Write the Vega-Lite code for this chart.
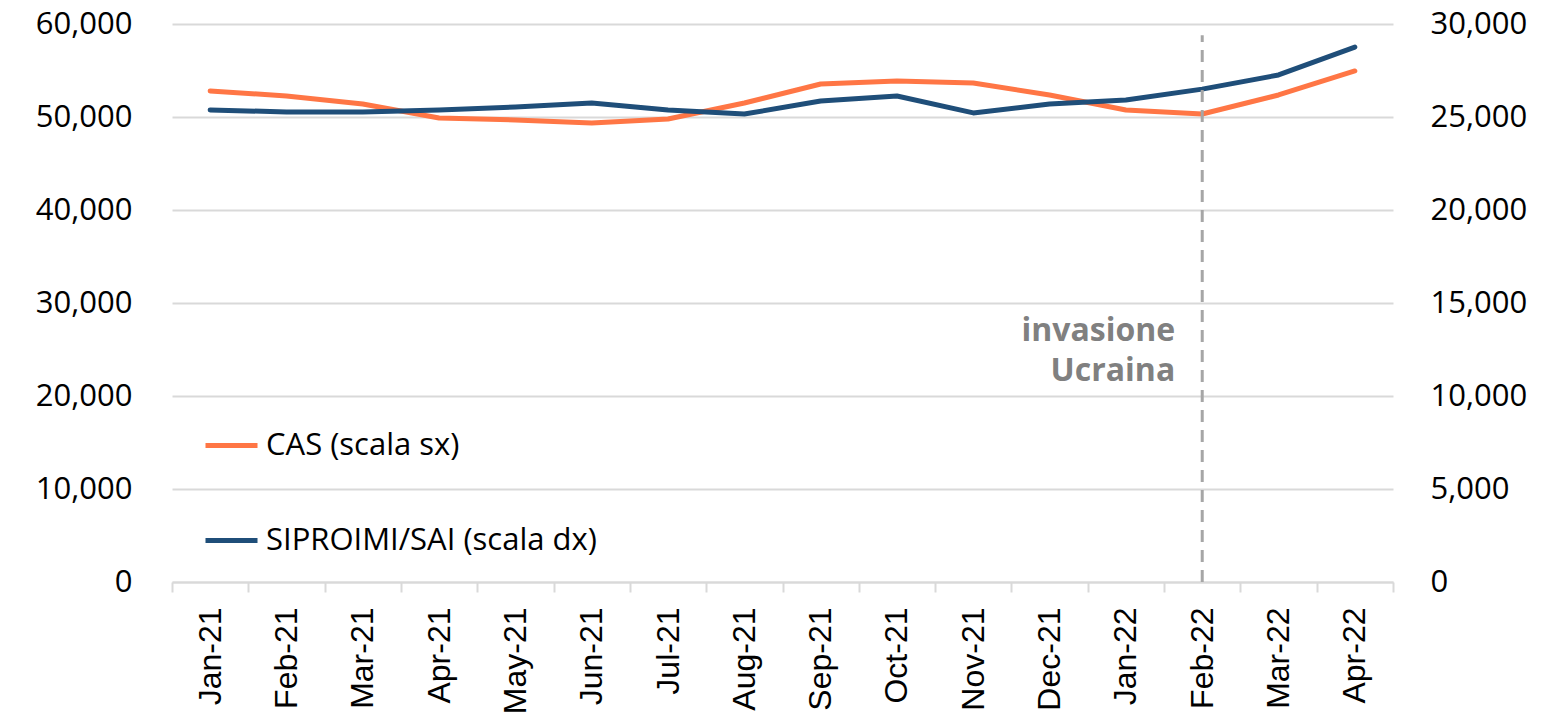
{
  "$schema": "https://vega.github.io/schema/vega-lite/v6.json",
  "width": 1221,
  "height": 558,
  "autosize": {"type": "none"},
  "padding": {"left": 172, "top": 24, "right": 163, "bottom": 144},
  "background": "white",
  "config": {
    "view": {"stroke": null},
    "font": "Open Sans"
  },
  "datasets": {
    "series": [
      {"month": "Jan-21", "series": "CAS (scala sx)", "value": 52800},
      {"month": "Feb-21", "series": "CAS (scala sx)", "value": 52260},
      {"month": "Mar-21", "series": "CAS (scala sx)", "value": 51400},
      {"month": "Apr-21", "series": "CAS (scala sx)", "value": 49890},
      {"month": "May-21", "series": "CAS (scala sx)", "value": 49680},
      {"month": "Jun-21", "series": "CAS (scala sx)", "value": 49360},
      {"month": "Jul-21", "series": "CAS (scala sx)", "value": 49790},
      {"month": "Aug-21", "series": "CAS (scala sx)", "value": 51500},
      {"month": "Sep-21", "series": "CAS (scala sx)", "value": 53550},
      {"month": "Oct-21", "series": "CAS (scala sx)", "value": 53870},
      {"month": "Nov-21", "series": "CAS (scala sx)", "value": 53660},
      {"month": "Dec-21", "series": "CAS (scala sx)", "value": 52370},
      {"month": "Jan-22", "series": "CAS (scala sx)", "value": 50750},
      {"month": "Feb-22", "series": "CAS (scala sx)", "value": 50320},
      {"month": "Mar-22", "series": "CAS (scala sx)", "value": 52370},
      {"month": "Apr-22", "series": "CAS (scala sx)", "value": 54950},
      {"month": "Jan-21", "series": "SIPROIMI/SAI (scala dx)", "value": 25380},
      {"month": "Feb-21", "series": "SIPROIMI/SAI (scala dx)", "value": 25270},
      {"month": "Mar-21", "series": "SIPROIMI/SAI (scala dx)", "value": 25270},
      {"month": "Apr-21", "series": "SIPROIMI/SAI (scala dx)", "value": 25380},
      {"month": "May-21", "series": "SIPROIMI/SAI (scala dx)", "value": 25540},
      {"month": "Jun-21", "series": "SIPROIMI/SAI (scala dx)", "value": 25750},
      {"month": "Jul-21", "series": "SIPROIMI/SAI (scala dx)", "value": 25380},
      {"month": "Aug-21", "series": "SIPROIMI/SAI (scala dx)", "value": 25160},
      {"month": "Sep-21", "series": "SIPROIMI/SAI (scala dx)", "value": 25860},
      {"month": "Oct-21", "series": "SIPROIMI/SAI (scala dx)", "value": 26130},
      {"month": "Nov-21", "series": "SIPROIMI/SAI (scala dx)", "value": 25220},
      {"month": "Dec-21", "series": "SIPROIMI/SAI (scala dx)", "value": 25700},
      {"month": "Jan-22", "series": "SIPROIMI/SAI (scala dx)", "value": 25910},
      {"month": "Feb-22", "series": "SIPROIMI/SAI (scala dx)", "value": 26500},
      {"month": "Mar-22", "series": "SIPROIMI/SAI (scala dx)", "value": 27260},
      {"month": "Apr-22", "series": "SIPROIMI/SAI (scala dx)", "value": 28760}
    ],
    "events": [
      {"month": "Feb-22", "label": ["invasione", "Ucraina"], "level": 27000}
    ]
  },
  "encoding": {
    "x": {
      "field": "month",
      "type": "ordinal",
      "sort": null,
      "scale": {"type": "band", "paddingInner": 0, "paddingOuter": 0},
      "axis": {
        "title": null,
        "labelAngle": -90,
        "labelFont": "Liberation Sans",
        "labelFontSize": 32,
        "labelColor": "#000000",
        "labelPadding": 15,
        "tickBand": "extent",
        "tickSize": 10,
        "tickWidth": 2,
        "tickColor": "#d9d9d9",
        "domainColor": "#d9d9d9",
        "domainWidth": 2,
        "grid": false
      }
    }
  },
  "layer": [
    {
      "data": {"name": "series"},
      "transform": [{"filter": "datum.series === 'CAS (scala sx)'"}],
      "mark": {"type": "line", "strokeWidth": 5, "strokeCap": "round", "strokeJoin": "round"},
      "encoding": {
        "y": {
          "field": "value",
          "type": "quantitative",
          "scale": {"domain": [0, 60000], "nice": false},
          "axis": {
            "title": null,
            "orient": "left",
            "values": [0, 10000, 20000, 30000, 40000, 50000, 60000],
            "format": ",d",
            "labelFontSize": 31,
            "labelColor": "#000000",
            "labelPadding": 40,
            "ticks": false,
            "domain": false,
            "grid": true,
            "gridColor": "#d9d9d9",
            "gridWidth": 2
          }
        },
        "color": {
          "field": "series",
          "type": "nominal",
          "scale": {
            "domain": ["CAS (scala sx)", "SIPROIMI/SAI (scala dx)"],
            "range": ["#ff7645", "#1f4e79"]
          },
          "legend": {
            "title": null,
            "orient": "none",
            "legendX": 31,
            "legendY": 393,
            "symbolType": "stroke",
            "symbolSize": 2704,
            "symbolStrokeWidth": 5,
            "labelFontSize": 31,
            "labelColor": "#000000",
            "labelOffset": 6,
            "rowPadding": 51,
            "labelLimit": 500
          }
        }
      }
    },
    {
      "data": {"name": "series"},
      "transform": [{"filter": "datum.series === 'SIPROIMI/SAI (scala dx)'"}],
      "mark": {"type": "line", "strokeWidth": 5, "strokeCap": "round", "strokeJoin": "round"},
      "encoding": {
        "y": {
          "field": "value",
          "type": "quantitative",
          "scale": {"domain": [0, 30000], "nice": false},
          "axis": {
            "title": null,
            "orient": "right",
            "values": [0, 5000, 10000, 15000, 20000, 25000, 30000],
            "format": ",d",
            "labelFontSize": 31,
            "labelColor": "#000000",
            "labelPadding": 37,
            "ticks": false,
            "domain": false,
            "grid": false
          }
        },
        "color": {"field": "series", "type": "nominal"}
      }
    },
    {
      "data": {"name": "events"},
      "mark": {"type": "rule", "color": "#a6a6a6", "strokeWidth": 3, "strokeDash": [12, 8]},
      "encoding": {
        "y": {"datum": 0, "type": "quantitative", "scale": {"domain": [0, 60000], "nice": false}, "axis": null},
        "y2": {"datum": 58800}
      }
    },
    {
      "data": {"name": "events"},
      "mark": {"type": "text", "align": "right", "baseline": "middle", "dx": -27, "fontSize": 32, "fontWeight": "bold", "color": "#808080", "lineHeight": 40},
      "encoding": {
        "y": {"field": "level", "type": "quantitative", "scale": {"domain": [0, 60000], "nice": false}, "axis": null},
        "text": {"field": "label"}
      }
    }
  ],
  "resolve": {"scale": {"y": "independent"}, "axis": {"y": "independent"}}
}
